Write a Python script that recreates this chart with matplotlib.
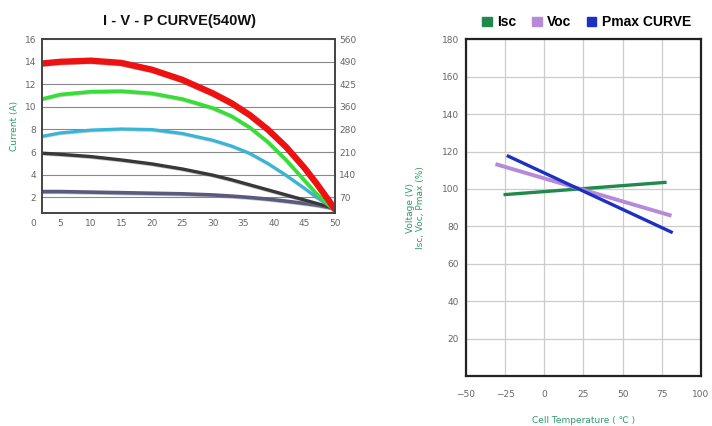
import matplotlib
matplotlib.use("Agg")
import matplotlib.pyplot as plt
from matplotlib.patches import Patch

# I-V-P curve data (voltage V, current A)
volt = [2, 5, 10, 15, 20, 25, 30, 33, 36, 39, 42, 45, 47, 49, 50]
cur_red = [13.85, 14.0, 14.1, 13.9, 13.3, 12.4, 11.2, 10.35, 9.3, 8.0, 6.45,
           4.6, 3.2, 1.7, 0.9]
cur_green = [10.7, 11.1, 11.35, 11.4, 11.2, 10.7, 9.9, 9.2, 8.2, 6.9, 5.3,
             3.5, 2.3, 1.3, 0.9]
cur_cyan = [7.4, 7.7, 7.95, 8.05, 8.0, 7.65, 7.05, 6.55, 5.9, 5.0, 3.95, 2.8,
            2.0, 1.3, 0.9]
cur_black = [5.9, 5.8, 5.6, 5.3, 4.95, 4.5, 3.95, 3.55, 3.1, 2.65, 2.2, 1.75,
             1.45, 1.15, 0.95]
cur_purple = [2.5, 2.5, 2.45, 2.4, 2.35, 2.3, 2.2, 2.1, 1.98, 1.83, 1.65, 1.45,
              1.3, 1.1, 1.0]
left_ticks = [2, 4, 6, 8, 10, 12, 14, 16]
x_ticks = [5, 10, 15, 20, 25, 30, 35, 40, 45, 50]
power_labels = ["70", "140", "210", "280", "360", "425", "490", "560"]

# temperature coefficient lines (cell temperature C, %)
isc_t = [-25, 77]
isc_v = [97, 103.5]
voc_t = [-30, 80]
voc_v = [113, 86]
pmax_t = [-23, 81]
pmax_v = [117.5, 77]
temp_ticks = [-50, -25, 0, 25, 50, 75, 100]
pct_ticks = [20, 40, 60, 80, 100, 120, 140, 160, 180]

narrow = ["Liberation Sans Narrow", "Liberation Sans", "DejaVu Sans"]

fig = plt.figure(figsize=(7.12, 4.26), dpi=100)
fig.patch.set_facecolor("white")

tick_col = "#666666"
lab_col = "#2e9a6a"

# ---- left chart ----
ax = fig.add_axes([0.059, 0.5, 0.4115, 0.408])
ax.set_xlim(2, 50)
ax.set_ylim(0.6, 16)
ax.set_yticks(left_ticks)
ax.set_xticks(x_ticks)
ax.tick_params(length=0, labelsize=6.5, colors=tick_col, pad=4)
ax.grid(axis="y", color="#888888", linewidth=0.8)
ax.set_axisbelow(True)
for s in ax.spines.values():
    s.set_color("#444444")
    s.set_linewidth(1.4)
ax.text(-0.02, 0.05, "0", transform=ax.get_yaxis_transform(), ha="right",
        va="top", fontsize=6.5, color=tick_col)

curves = [(cur_purple, "#5a5a80", 2.6), (cur_black, "#383838", 2.4),
          (cur_cyan, "#35b5d8", 2.2), (cur_green, "#33e033", 2.6),
          (cur_red, "#ee1111", 4.5)]
for ys, col, lw in curves:
    ax.plot(volt, [v - 0.1 for v in ys], color="#888888", linewidth=lw * 0.8,
            alpha=0.5, solid_capstyle="round", solid_joinstyle="round")
    ax.plot(volt, ys, color=col, linewidth=lw, solid_capstyle="round",
            solid_joinstyle="round")

ax.set_ylabel("Current (A)", color=lab_col, fontsize=6.5, labelpad=4)
ax.set_title("I - V - P CURVE(540W)", fontsize=10.5, fontweight="heavy",
             family=narrow, color="#111111", pad=10, x=0.47)

ax2 = ax.twinx()
ax2.set_ylim(ax.get_ylim())
ax2.set_yticks(left_ticks)
ax2.set_yticklabels(power_labels)
ax2.tick_params(length=0, labelsize=6.5, colors=tick_col, pad=3)
for s in ax2.spines.values():
    s.set_visible(False)

# ---- right chart ----
bx = fig.add_axes([0.6545, 0.117, 0.330, 0.791])
bx.set_xlim(-50, 100)
bx.set_ylim(0, 180)
bx.set_xticks(temp_ticks)
bx.set_yticks(pct_ticks)
bx.tick_params(axis="x", length=0, labelsize=6.5, colors=tick_col, pad=10)
bx.tick_params(axis="y", length=0, labelsize=6.5, colors=tick_col, pad=5)
bx.grid(color="#cccccc", linewidth=0.9)
bx.set_axisbelow(True)
for s in bx.spines.values():
    s.set_color("#222222")
    s.set_linewidth(1.6)

bx.plot(isc_t, isc_v, color="#1f8a4c", linewidth=2.4)
bx.plot(voc_t, voc_v, color="#b58ad8", linewidth=2.8)
bx.plot(pmax_t, pmax_v, color="#1e2fc4", linewidth=2.4)

bx.set_xlabel("Cell Temperature ( \u2103 )", color=lab_col, fontsize=6.5,
              labelpad=12)
bx.set_ylabel("Voltage (V)\nIsc, Voc, Pmax (%)", color=lab_col, fontsize=6.5,
              labelpad=12)

handles = [Patch(color="#1f8a4c", label="Isc"),
           Patch(color="#b58ad8", label="Voc"),
           Patch(color="#1e2fc4", label="Pmax CURVE")]
leg = bx.legend(handles=handles, loc="lower right", bbox_to_anchor=(1.0, 1.0),
                ncol=3, frameon=False, handlelength=0.7, handleheight=0.7,
                handletextpad=0.4, columnspacing=1.1, borderaxespad=0.3,
                prop={"weight": "bold", "size": 10, "family": narrow})

fig.savefig("out.png", dpi=100)
